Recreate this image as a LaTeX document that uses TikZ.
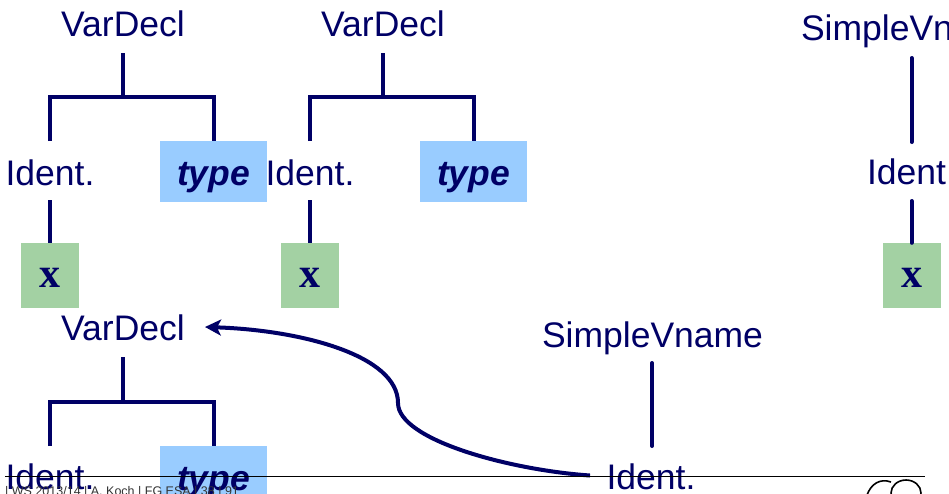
\documentclass[tikz,border=0pt]{standalone}
\usepackage{fontspec}
\setmainfont{Liberation Sans}
\newfontfamily\xfont{Liberation Serif}
\usetikzlibrary{arrows.meta}
\definecolor{navy}{HTML}{000066}
\definecolor{typeblue}{HTML}{99CCFF}
\definecolor{xgreen}{HTML}{A3D1A3}
\tikzset{
  lbl/.style={anchor=base,inner sep=0pt,text=navy,font=\fontsize{35.5}{40}\selectfont},
  edge/.style={draw=navy,line width=4pt},
  typebox/.style={fill=typeblue,minimum width=107pt,minimum height=61pt,inner sep=0pt,
    text=navy,text height=30pt,text depth=3pt,font=\fontsize{35.5}{40}\selectfont\bfseries\itshape},
  xbox/.style={fill=xgreen,minimum width=58pt,minimum height=65pt,inner sep=0pt,
    text=navy,text height=25pt,text depth=2pt,font=\fontsize{42}{44}\selectfont\xfont\bfseries},
}
\begin{document}
\begin{tikzpicture}[x=1pt,y=-1pt]
\useasboundingbox (0,0) rectangle (949,493);
\clip (0,0) rectangle (949,493);
% ---------- tree 1 ----------
\node[lbl] (vd1) at (123,36) {VarDecl};
\node[lbl] (id1) at (50,185) {Ident.};
\node[typebox] (ty1) at (213.5,171.5) {type};
\node[xbox] (x1) at (50,275.5) {x};
\coordinate (vd1b) at (123,53);
\coordinate (j1) at (123,97);
\coordinate (id1t) at (50,141);
\coordinate (id1b) at (50,200);
\draw[edge] (vd1b) -- (j1);
\draw[edge] (id1t) |- (j1) -| (ty1.north);
\draw[edge] (id1b) -- (x1.north);
% ---------- tree 2 ----------
\node[lbl] (vd2) at (383,36) {VarDecl};
\node[lbl] (id2) at (310,185) {Ident.};
\node[typebox] (ty2) at (473.5,171.5) {type};
\node[xbox] (x2) at (310,275.5) {x};
\coordinate (vd2b) at (383,53);
\coordinate (j2) at (383,97);
\coordinate (id2t) at (310,141);
\coordinate (id2b) at (310,200);
\draw[edge] (vd2b) -- (j2);
\draw[edge] (id2t) |- (j2) -| (ty2.north);
\draw[edge] (id2b) -- (x2.north);
% ---------- tree 3 ----------
\node[lbl] (sv3) at (911.5,40) {SimpleVname};
\node[lbl] (id3) at (911.5,184) {Ident.};
\node[xbox] (x3) at (911.5,275.5) {x};
\coordinate (sv3b) at (911.5,58);
\coordinate (id3t) at (911.5,142);
\coordinate (id3b) at (911.5,201);
\draw[edge,line cap=round] (sv3b) -- (id3t);
\draw[edge,line cap=round] (id3b) -- (x3.north);
% ---------- tree 4 ----------
\node[lbl] (vd4) at (123,340) {VarDecl};
\node[typebox] (ty4) at (213.5,476.5) {type};
\node[lbl] (id4) at (50,489) {Ident.};
\coordinate (vd4b) at (123,357);
\coordinate (j4) at (123,402);
\coordinate (id4t) at (50,446);
\draw[edge] (vd4b) -- (j4);
\draw[edge] (id4t) |- (j4) -| (ty4.north);
% ---------- SimpleVname bottom ----------
\node[lbl] (sv5) at (652.5,347) {SimpleVname};
\node[lbl] (id5) at (651,489) {Ident.};
\coordinate (sv5b) at (652,363);
\coordinate (id5t) at (652,446);
\draw[edge,line cap=round] (sv5b) -- (id5t);
% ---------- curved arrow ----------
\coordinate (cs) at (590,475.5);
\coordinate (cm) at (398,403);
\coordinate (ce) at (205,327);
\draw[navy,line width=4pt,-{Stealth[length=16pt,width=16pt,inset=4pt]}]
  (cs) .. controls (510,470) and (398,440) .. (cm)
  .. controls (398,355) and (300,330) .. (ce);
% ---------- footer ----------
\coordinate (fl) at (5,476.5);
\coordinate (fr) at (925,476.5);
\draw[black,line width=1pt] (fl) -- (fr);
\node[anchor=base west,inner sep=0pt,text=black!80,font=\fontsize{12.5}{14}\selectfont] (foot) at (5,495)
  {| WS 2013/14 | A. Koch | FG ESA | 38 | 91};
\draw[black,line width=1.6pt] (891,482) .. controls (880,478) and (871,484) .. (867,495);
\draw[black,line width=1.6pt] (906,493) ellipse [x radius=15, y radius=13];
\end{tikzpicture}
\end{document}
